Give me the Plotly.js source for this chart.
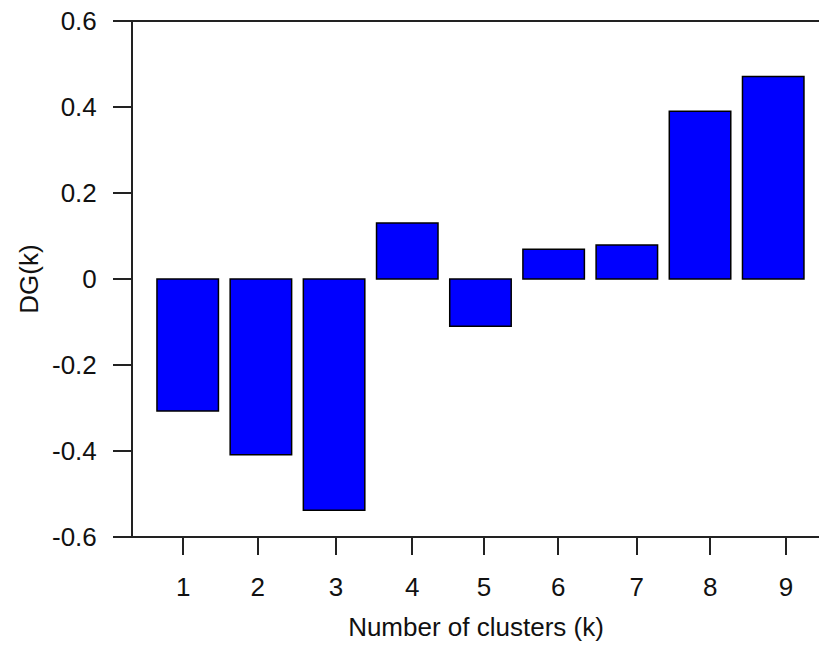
<!DOCTYPE html>
<html>
<head>
<meta charset="utf-8">
<script src="https://cdn.plot.ly/plotly-3.0.1.min.js"></script>
<style>html,body{margin:0;padding:0;background:#fff;}#chart{width:819px;height:645px;}</style>
</head>
<body>
<div id="chart"></div>
<script>
// Data
const clusters = [1, 2, 3, 4, 5, 6, 7, 8, 9];
const dgValues = [-0.307, -0.409, -0.538, 0.130, -0.110, 0.069, 0.079, 0.390, 0.471];
const xTickLabels = ['1', '2', '3', '4', '5', '6', '7', '8', '9'];
const xTickVals = [0.94, 1.956, 3.026, 4.069, 5.048, 6.063, 7.135, 8.138, 9.176];
const yTickVals = [-0.6, -0.4, -0.2, 0, 0.2, 0.4, 0.6];
const yTickLabels = ['-0.6', '-0.4', '-0.2', '0', '0.2', '0.4', '0.6'];

const FONT = 'Liberation Sans, Arial, sans-serif';
const LINE = '#222';

const trace = {
  type: 'bar',
  x: clusters,
  y: dgValues,
  width: 0.84,
  marker: {color: '#0000FF', line: {color: '#000', width: 1.5}},
  hoverinfo: 'x+y'
};

const plotW = 819 - 133;
const layout = {
  width: 819, height: 645,
  margin: {l: 133, r: 0, t: 21, b: 108, pad: 0},
  paper_bgcolor: '#fff', plot_bgcolor: '#fff',
  showlegend: false,
  font: {family: FONT, size: 26, color: '#111'},
  xaxis: {
    range: [0.2526, 9.6255],
    tickmode: 'array', tickvals: xTickVals, ticktext: xTickLabels,
    ticks: 'outside', ticklen: 17, tickwidth: 2, tickcolor: LINE,
    showline: false, showgrid: false, zeroline: false,
    tickfont: {family: FONT, size: 26, color: '#111'},
    ticklabelstandoff: 10,
    title: {text: 'Number of clusters (k)', font: {family: FONT, size: 26, color: '#111'}, standoff: 16}
  },
  yaxis: {
    range: [-0.6, 0.6],
    tickmode: 'array', tickvals: yTickVals, ticktext: yTickLabels,
    ticks: 'outside', ticklen: 18, tickwidth: 2, tickcolor: LINE,
    showline: true, linecolor: LINE, linewidth: 2,
    showgrid: false, zeroline: false,
    tickfont: {family: FONT, size: 26, color: '#111'},
    ticklabelstandoff: 11,
    title: {text: 'DG(k)', font: {family: FONT, size: 26, color: '#111'}, standoff: 6}
  },
  shapes: [
    {type: 'line', xref: 'paper', yref: 'paper', x0: -18 / plotW, x1: 1, y0: 1, y1: 1,
     line: {color: LINE, width: 2}},
    {type: 'line', xref: 'paper', yref: 'paper', x0: -18 / plotW, x1: 1, y0: 0, y1: 0,
     line: {color: LINE, width: 2}}
  ]
};

Plotly.newPlot('chart', [trace], layout, {displayModeBar: false, staticPlot: true});
</script>
</body>
</html>
